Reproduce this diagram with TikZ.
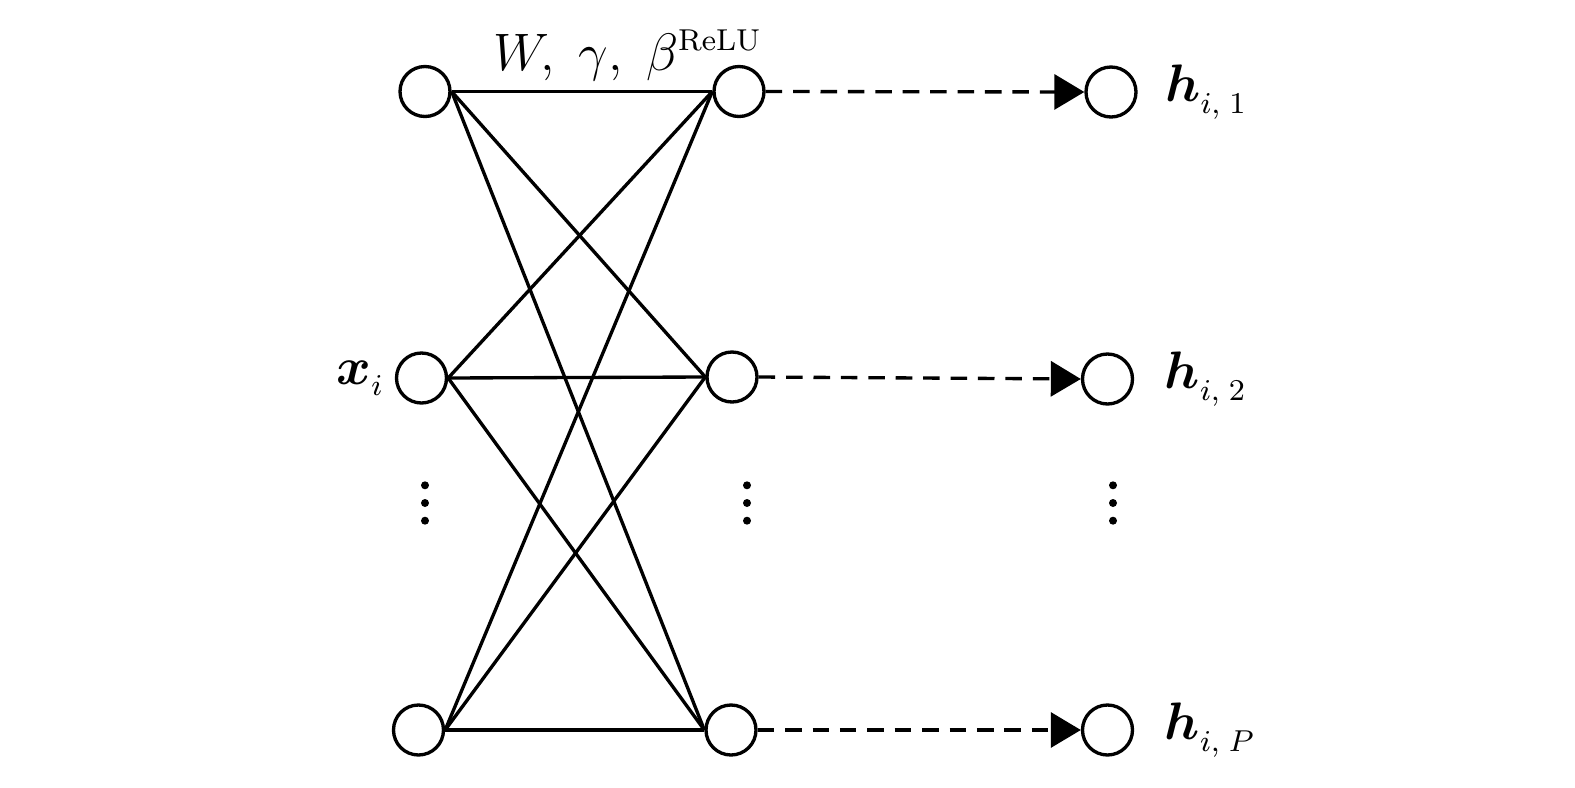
\RequirePackage{fix-cm}
\documentclass[tikz,border=0pt]{standalone}
\usepackage{amsmath,bm}
\DeclareMathSizes{15}{15}{8.6}{6.5}
\newcommand{\hout}[1]{\bm{h}_{\lower1pt\hbox{$\scriptstyle i,\;#1$}}}
\usetikzlibrary{positioning,arrows.meta}
\tikzset{
  neuron/.style={draw,circle,line width=0.95pt,minimum size=0.5cm,inner sep=0pt},
  link/.style={line width=0.95pt},
  feed/.style={line width=0.95pt,dash pattern=on 4.7pt off 3.1pt,-{Triangle[length=0.3cm,width=0.35cm]}},
  lbl/.style={inner sep=0pt,font=\fontsize{15}{18}\selectfont}
}

\begin{document}
\begin{tikzpicture}
\useasboundingbox (0,0) rectangle (15.75,7.87);

% input, hidden and output columns
\node[neuron] (in1) at (4.25,6.955) {};
\node[neuron] (in2) at (4.215,4.09) {};
\node[neuron] (inP) at (4.185,0.57) {};
\node[neuron] (hid1) at (7.39,6.955) {};
\node[neuron] (hid2) at (7.32,4.10) {};
\node[neuron] (hidP) at (7.31,0.57) {};
\node[neuron] (out1) at (11.11,6.95) {};
\node[neuron] (out2) at (11.075,4.08) {};
\node[neuron] (outP) at (11.075,0.57) {};

% full connections
\foreach \a in {in1,in2,inP}
  \foreach \b in {hid1,hid2,hidP}
    \draw[link] (\a.east) -- (\b.west);

\draw[feed] (hid1.east) -- (out1.west);
\draw[feed] (hid2.east) -- (out2.west);
\draw[feed] (hidP.east) -- (outP.west);

% vertical dots
\foreach \x in {4.25,7.47,11.13}
  \foreach \dy in {-0.177,0,0.177}
    \fill (\x,2.84+\dy) circle (0.04);

\node[lbl,anchor=base west] (wgt) at (4.93,7.17) {$W,\;\gamma,\;\beta^{\mathrm{ReLU}}$};
\node[lbl,left=0.1cm of in2] (xin) {$\bm{x}_{\lower1pt\hbox{$\scriptstyle i$}}$};
\node[lbl,right=0.27cm of out1] (h1) {$\hout{1}$};
\node[lbl,right=0.3cm of out2] (h2) {$\hout{2}$};
\node[lbl,right=0.3cm of outP] (hP) {$\hout{P}$};
\end{tikzpicture}
\end{document}
